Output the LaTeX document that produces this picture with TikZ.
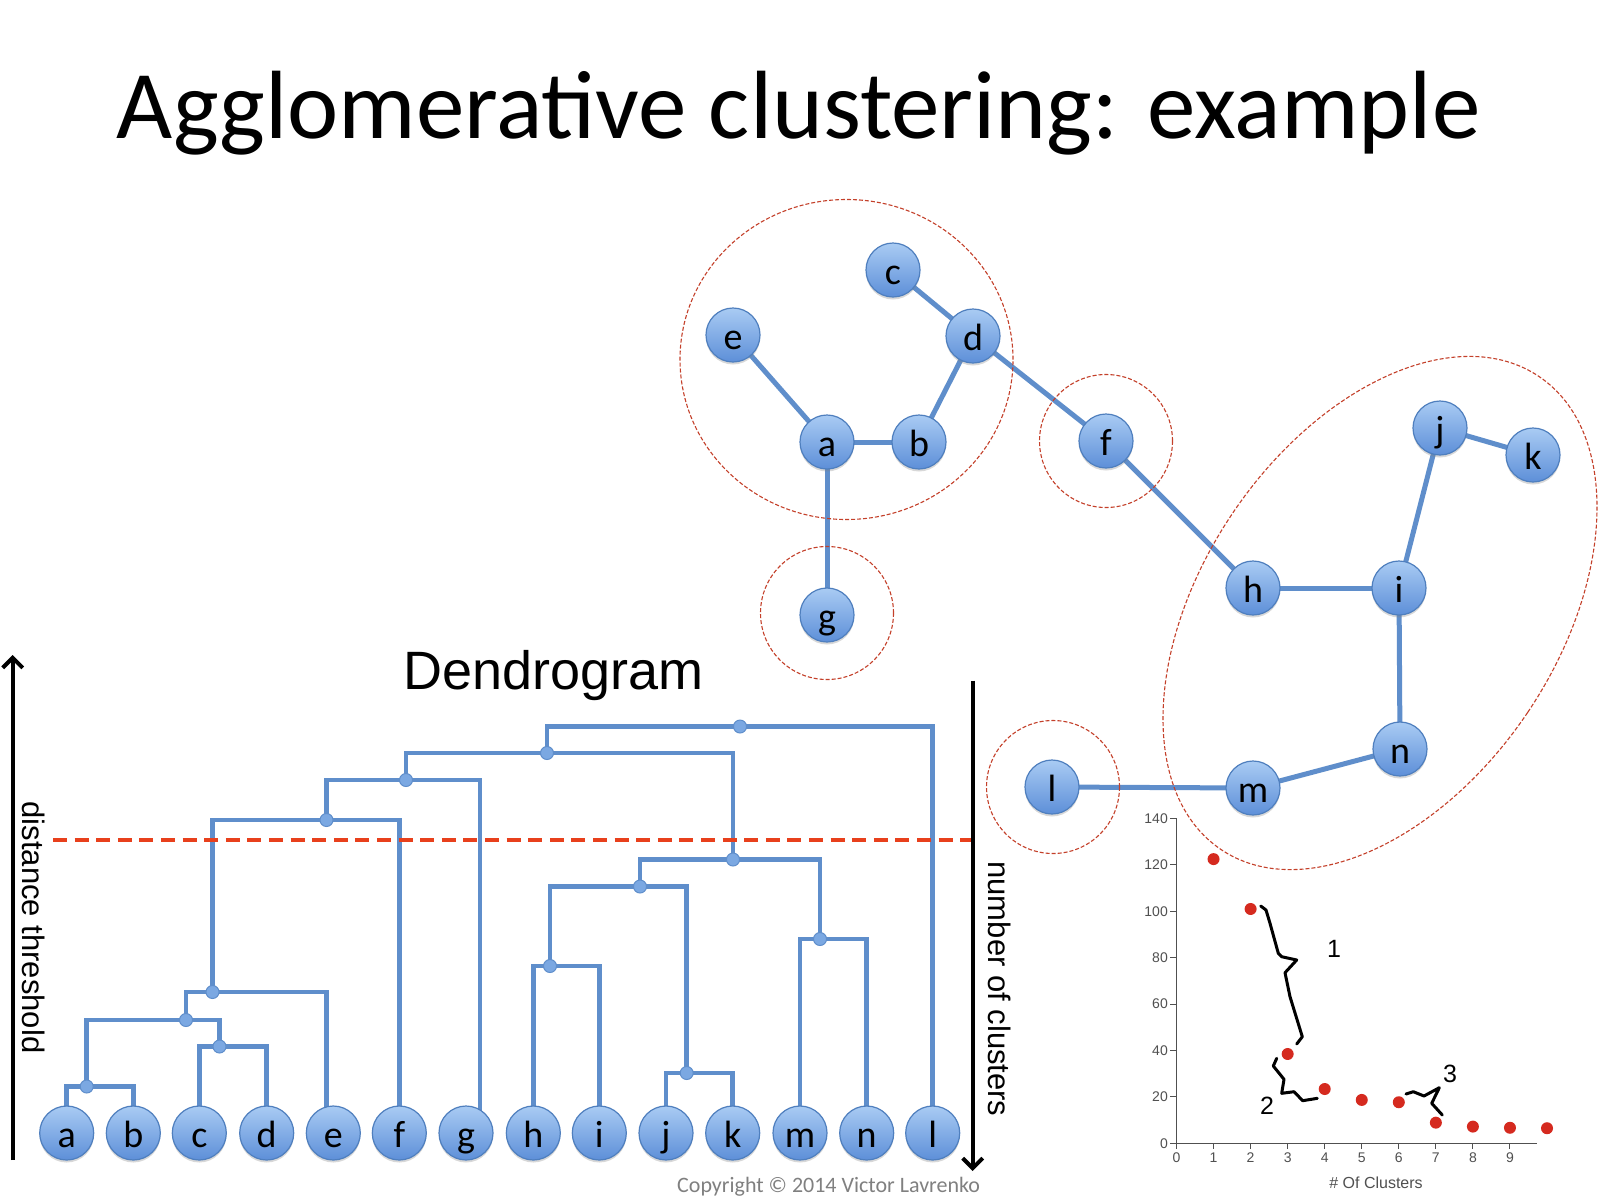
\documentclass[tikz,border=0pt]{standalone}
\usepackage{fontspec}
\setmainfont{Carlito}
\newfontfamily\arialfont{Liberation Sans}
\usetikzlibrary{shadows,arrows.meta}
\definecolor{nodetop}{HTML}{A9CBF3}
\definecolor{nodebot}{HTML}{5D8FD8}
\definecolor{nodeborder}{HTML}{4F7FBE}
\definecolor{linkblue}{HTML}{5F8ECB}
\definecolor{dotfill}{HTML}{7BA8E2}
\definecolor{cutred}{HTML}{E8401C}
\definecolor{clusterred}{HTML}{C4402A}
\definecolor{pointred}{HTML}{D52A1F}
\definecolor{axisgray}{HTML}{505050}
\definecolor{copygray}{HTML}{808080}
\pgfdeclarelayer{background}
\pgfsetlayers{background,main}
\begin{document}
\begin{tikzpicture}[x=1bp,y=-1bp,
  ball/.style={circle, minimum size=54bp, inner sep=0pt, draw=nodeborder,
    line width=1.2bp, top color=nodetop, bottom color=nodebot,
    text height=29bp, text depth=0bp, font=\fontsize{38bp}{40bp}\selectfont,
    drop shadow={shadow xshift=0bp, shadow yshift=-2.5bp, opacity=0.3}},
  link/.style={draw=linkblue, line width=5bp},
  dlink/.style={draw=linkblue, line width=4.5bp},
  jdot/.style={circle, minimum size=13bp, inner sep=0pt, fill=dotfill,
    draw=linkblue, line width=1bp},
  cluster/.style={draw=clusterred, line width=1.1bp, dash pattern=on 4bp off 2bp},
  cutline/.style={draw=cutred, line width=4bp, dash pattern=on 14bp off 7.6bp},
  axisarrow/.style={draw=black, line width=4bp,
    -{Straight Barb[length=10bp,width=20bp]}},
  sidelabel/.style={font=\arialfont\fontsize{31bp}{34bp}\selectfont, inner sep=0pt},
  ticklabel/.style={font=\arialfont\fontsize{14bp}{16bp}\selectfont, text=axisgray, inner sep=1bp},
  bracelabel/.style={font=\arialfont\fontsize{25bp}{28bp}\selectfont, inner sep=0pt},
  brace/.style={draw=black, line width=3bp, line join=round, line cap=round}
]
\useasboundingbox (0,0) rectangle (1600,1200);
\begin{pgfonlayer}{background}
  \fill[white] (0,0) rectangle (1600,1200);
\end{pgfonlayer}

% ---------- title ----------
\node[anchor=base, font=\fontsize{97bp}{110bp}\selectfont, inner sep=0pt] (title)
  at (798.5,138) {Agglomerative clustering: example};

% ---------- graph of points ----------
\node[ball] (c) at (893,270) {c};
\node[ball] (e) at (733,335) {e};
\node[ball] (d) at (973,336) {d};
\node[ball] (a) at (827,442) {a};
\node[ball] (b) at (919,442) {b};
\node[ball] (f) at (1106,441) {f};
\node[ball] (g) at (827,615) {g};
\node[ball] (j) at (1440,428) {j};
\node[ball] (k) at (1533,455) {k};
\node[ball] (h) at (1253,588) {h};
\node[ball] (i) at (1399,588) {i};
\node[ball] (n) at (1400,749) {n};
\node[ball] (m) at (1253,788) {m};
\node[ball] (l) at (1052,787) {l};

\begin{pgfonlayer}{background}
  \foreach \u/\v in {c/d, e/a, a/b, b/d, d/f, a/g, f/h, h/i, i/j, j/k, i/n, n/m, m/l}
    \draw[link] (\u.center) -- (\v.center);
\end{pgfonlayer}

% cluster outlines
\draw[cluster] (846.5,359.5) ellipse [x radius=166.5bp, y radius=160bp];
\draw[cluster] (1106,441) circle [radius=66.5bp];
\draw[cluster] (827,613) circle [radius=66.5bp];
\draw[cluster] (1053,787) circle [radius=66.5bp];
\draw[cluster, shift={(1380,613)}, rotate=-33.9] (0,0) ellipse [x radius=178bp, y radius=285bp];

% ---------- dendrogram ----------
\node[anchor=base west, font=\arialfont\fontsize{54bp}{60bp}\selectfont, inner sep=0pt]
  (dtitle) at (403,689) {Dendrogram};

\foreach \name/\xx in {a/66.7, b/133.3, c/199.3, d/266.7, e/333.3, f/399.3, g/466,
                      h/533.3, i/599.3, j/666, k/732.7, m/800, n/866.7, l/932.7}
  \node[ball] (leaf\name) at (\xx,1133) {\name};

\node[jdot] (jab)   at (86.7,1086.5) {};
\node[jdot] (jcd)   at (219.5,1046.5) {};
\node[jdot] (jabcd) at (186,1020) {};
\node[jdot] (jabce) at (212.5,992) {};
\node[jdot] (jf)    at (326.5,820) {};
\node[jdot] (jg)    at (406,780) {};
\node[jdot] (jr)    at (547,753) {};
\node[jdot] (jl)    at (740,726.5) {};
\node[jdot] (jhi)   at (550,966) {};
\node[jdot] (jjk)   at (686.7,1073) {};
\node[jdot] (jhk)   at (640,886.5) {};
\node[jdot] (jmn)   at (820,939) {};
\node[jdot] (jhm)   at (733,859.5) {};

\begin{pgfonlayer}{background}
  \draw[dlink] (leafa.center) |- (jab.center) -| (leafb.center);
  \draw[dlink] (leafc.center) |- (jcd.center) -| (leafd.center);
  \draw[dlink] (jab.center) |- (jabcd.center) -| (jcd.center);
  \draw[dlink] (jabcd.center) |- (jabce.center) -| ([xshift=-7bp]leafe.center);
  \draw[dlink] (jabce.center) |- (jf.center) -| (leaff.center);
  \draw[dlink] (jf.center) |- (jg.center) -| ([xshift=14bp]leafg.center);
  \draw[dlink] (jg.center) |- (jr.center) -| (jhm.center);
  \draw[dlink] (jr.center) |- (jl.center) -| (leafl.center);
  \draw[dlink] (leafh.center) |- (jhi.center) -| (leafi.center);
  \draw[dlink] (leafj.center) |- (jjk.center) -| (leafk.center);
  \draw[dlink] (jhi.center) |- (jhk.center) -| (jjk.center);
  \draw[dlink] (jhk.center) |- (jhm.center) -| (jmn.center);
  \draw[dlink] (leafm.center) |- (jmn.center) -| (leafn.center);
\end{pgfonlayer}

% distance cut
\coordinate (cutL) at (53,840);
\coordinate (cutR) at (972,840);
\draw[cutline] (cutL) -- (cutR);

% side axes
\coordinate (lbot) at (12.7,1160);
\coordinate (ltop) at (12.7,655);
\draw[axisarrow] (lbot) -- (ltop);
\node[sidelabel, rotate=-90] (dist) at (34,927.5) {distance threshold};

\coordinate (rtop) at (972.7,680.6);
\coordinate (rbot) at (972.7,1171);
\draw[axisarrow] (rtop) -- (rbot);
\node[sidelabel, rotate=-90] (ncl) at (1000,989) {number of clusters};

% ---------- cluster-count chart ----------
\draw[axisgray, line width=1.2bp] (1176.5,818.5) -- (1176.5,1143.3) -- (1537,1143.3);
\foreach \v [count=\k from 0] in {0,20,...,140} {
  \draw[axisgray, line width=1bp] (1170,{1143.3-2.32*\v}) -- (1176.5,{1143.3-2.32*\v});
  \node[ticklabel, anchor=east] (ytick\k) at (1169,{1143.3-2.32*\v}) {\v};
}
\foreach \t in {0,...,9} {
  \draw[axisgray, line width=1bp] ({1176.5+37.05*\t},1143.3) -- ({1176.5+37.05*\t},1149);
  \node[ticklabel] (xtick\t) at ({1176.5+37.05*\t},1158) {\t};
}
\node[ticklabel, font=\arialfont\fontsize{16bp}{18bp}\selectfont] (xname) at (1376,1183) {\# Of Clusters};

\foreach \px/\py in {1/122.5, 2/101, 3/38.5, 4/23.4, 5/18.7, 6/17.7, 7/8.9, 8/7.2, 9/6.7, 10/6.5}
  \fill[pointred] ({1176.5+37.05*\px},{1143.3-2.32*\py}) circle [radius=6bp];

% gap markers
\draw[brace] (1260.7,906) -- (1266,910) -- (1270,923.3) -- (1278.3,953.3) -- (1281.7,956.7)
  -- (1296.7,960) -- (1285,972.7) -- (1290,996.7) -- (1302.3,1036.7) -- (1296.7,1044);
\node[bracelabel] (g1) at (1334,949) {1};
\draw[brace] (1276.7,1058.3) -- (1273.3,1066) -- (1284,1079.3) -- (1281.7,1093.3)
  -- (1294,1091.7) -- (1302.7,1100.7) -- (1317.3,1098.3);
\node[bracelabel] (g2) at (1267,1106) {2};
\draw[brace] (1406,1094) -- (1413.3,1091.7) -- (1424,1096) -- (1439.3,1087.7)
  -- (1431.7,1103.3) -- (1442.3,1115);
\node[bracelabel] (g3) at (1450,1074) {3};

% ---------- footer ----------
\node[anchor=base west, text=copygray, font=\fontsize{22bp}{24bp}\selectfont, inner sep=0pt]
  (copy) at (677,1192) {Copyright © 2014 Victor Lavrenko};
\end{tikzpicture}
\end{document}
